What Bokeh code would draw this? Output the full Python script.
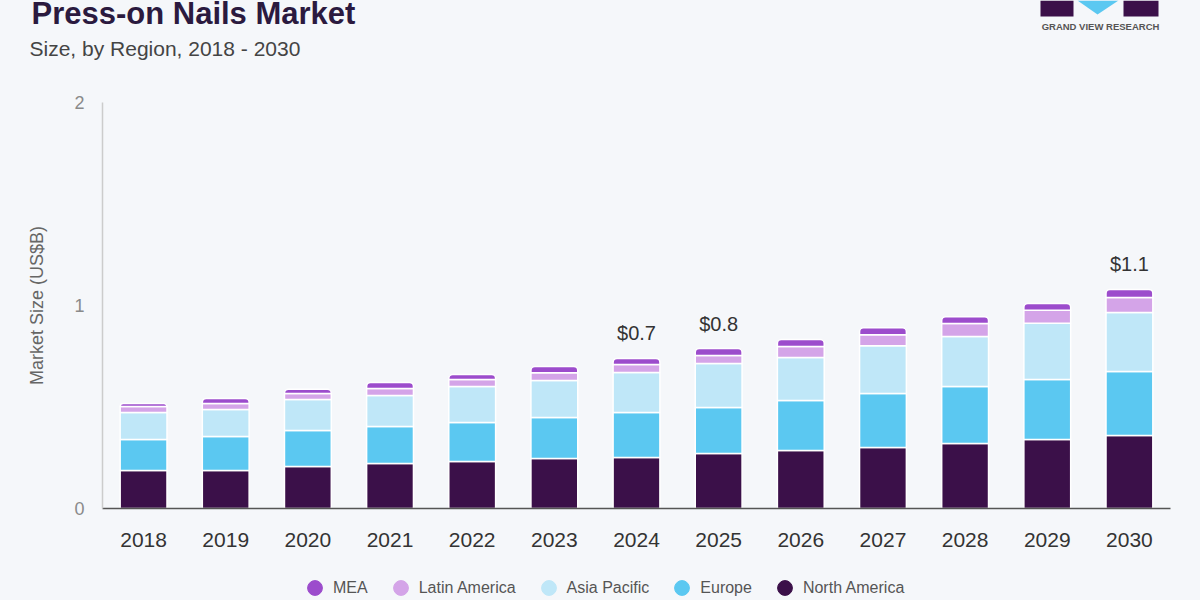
from bokeh.plotting import figure
from bokeh.models import (ColumnDataSource, FixedTicker, Label, Legend, LegendItem, Range1d)
from bokeh.layouts import column, row
from bokeh.core.properties import value
from bokeh.embed import file_html
from bokeh.resources import INLINE

years = ["2018", "2019", "2020", "2021", "2022", "2023", "2024",
         "2025", "2026", "2027", "2028", "2029", "2030"]
north_america = [0.187, 0.187, 0.207, 0.222, 0.232, 0.246, 0.251, 0.271, 0.286, 0.300, 0.320, 0.340, 0.360]
europe = [0.153, 0.168, 0.177, 0.182, 0.192, 0.202, 0.222, 0.227, 0.246, 0.266, 0.281, 0.296, 0.315]
asia_pacific = [0.133, 0.133, 0.153, 0.153, 0.177, 0.182, 0.197, 0.216, 0.212, 0.236, 0.246, 0.276, 0.291]
latin_america = [0.029, 0.029, 0.030, 0.034, 0.034, 0.039, 0.039, 0.040, 0.054, 0.054, 0.064, 0.064, 0.074]
mea = [0.015, 0.025, 0.020, 0.030, 0.025, 0.030, 0.030, 0.034, 0.034, 0.034, 0.034, 0.034, 0.039]

label_years = ["2024", "2025", "2030"]
label_texts = ["$0.7", "$0.8", "$1.1"]

y_ticks = [0, 1, 2]

regions = ["North America", "Europe", "Asia Pacific", "Latin America", "MEA"]
colors = ["#3b1049", "#5bc8f1", "#bfe7f8", "#d4a4e8", "#9c4ccc"]

BG = "#f5f7fa"
FONT = "Liberation Sans"


def blank(fig):
    fig.background_fill_color = BG
    fig.border_fill_color = BG
    fig.outline_line_color = None
    fig.xaxis.visible = False
    fig.yaxis.visible = False
    fig.xgrid.visible = False
    fig.ygrid.visible = False


# ---------------- header (title, subtitle, logo) ----------------
HH = 92
header = figure(width=1200, height=HH, x_range=Range1d(0, 1200), y_range=Range1d(0, HH),
                output_backend="svg", toolbar_location=None, title_location=None,
                min_border=0, min_border_left=0, min_border_right=0,
                min_border_top=0, min_border_bottom=0)
blank(header)
header.add_layout(Label(x=31, y=HH - 13, text="Press-on Nails Market", text_font=FONT,
                        text_font_size="31px", text_font_style="bold",
                        text_color="#2b1a3f", text_baseline="alphabetic"))
header.add_layout(Label(x=29, y=HH - 48, text="Size, by Region, 2018 - 2030", text_font=FONT,
                        text_font_size="21px", text_color="#444444",
                        text_baseline="alphabetic"))
header.quad(left=[1040, 1123], right=[1073, 1158], top=[HH, HH], bottom=[HH - 16, HH - 16],
            fill_color="#3b1049", line_color=None)
header.patch(x=[1077, 1118, 1097], y=[HH, HH, HH - 14], fill_color="#5bc8f1", line_color=None)
header.add_layout(Label(x=1100, y=HH - 26, text="GRAND VIEW RESEARCH", text_font=FONT,
                        text_font_size="9.5px", text_font_style="bold",
                        text_color="#555555", text_align="center",
                        text_baseline="alphabetic"))

# ---------------- main chart ----------------
data = dict(year=years)
for name, vals in zip(regions, [north_america, europe, asia_pacific, latin_america, mea]):
    data[name] = vals
source = ColumnDataSource(data)

MH = 468
p = figure(x_range=years, y_range=(0, 2), width=1200, height=MH,
           output_backend="svg", toolbar_location=None,
           min_border_left=102, min_border_right=30, min_border_top=102 - HH,
           min_border_bottom=MH - (508 - HH))
p.background_fill_color = BG
p.border_fill_color = BG
p.outline_line_color = None
p.xgrid.visible = False
p.ygrid.visible = False

p.vbar_stack(regions[:4], x="year", width=0.57, source=source,
             color=colors[:4], line_color="white", line_width=1.5)

cum4 = [a + b + c + d for a, b, c, d in zip(north_america, europe, asia_pacific, latin_america)]
totals = [c + e for c, e in zip(cum4, mea)]
top_src = ColumnDataSource(dict(year=years, bottom=cum4, top=totals))
p.vbar(x="year", bottom="bottom", top="top", width=0.57, source=top_src,
       fill_color=colors[4], line_color="white", line_width=1.5,
       border_radius=(4, 4, 0, 0))

lab_tops = [totals[years.index(y)] for y in label_years]
lab_src = ColumnDataSource(dict(year=label_years, top=lab_tops, text=label_texts))
p.text(x="year", y="top", text="text", source=lab_src, text_align="center",
       text_baseline="bottom", y_offset=-14, text_font=value(FONT),
       text_font_size="20px", text_color="#333333")

p.yaxis.ticker = FixedTicker(ticks=y_ticks)
p.yaxis.major_tick_line_color = None
p.yaxis.minor_tick_line_color = None
p.yaxis.axis_line_color = "#cccccc"
p.yaxis.axis_line_width = 1.5
p.yaxis.major_label_text_font = FONT
p.yaxis.major_label_text_font_size = "18px"
p.yaxis.major_label_text_color = "#8a8a8a"
p.yaxis.major_label_standoff = 12
p.yaxis.axis_label = "Market Size (US$B)"
p.yaxis.axis_label_text_font = FONT
p.yaxis.axis_label_text_font_style = "normal"
p.yaxis.axis_label_text_font_size = "18px"
p.yaxis.axis_label_text_color = "#666666"
p.yaxis.axis_label_standoff = 24

p.xaxis.major_tick_line_color = None
p.xaxis.minor_tick_line_color = None
p.xaxis.axis_line_color = "#555555"
p.xaxis.axis_line_width = 1.5
p.xaxis.major_label_text_font = FONT
p.xaxis.major_label_text_font_size = "21px"
p.xaxis.major_label_text_color = "#333333"
p.xaxis.major_label_standoff = 18

# ---------------- footer (legend) ----------------
FH = 600 - HH - MH
footer = figure(width=1200, height=FH, x_range=Range1d(0, 1200), y_range=Range1d(0, FH),
                output_backend="svg", toolbar_location=None, title_location=None,
                min_border=0, min_border_left=0, min_border_right=0,
                min_border_top=0, min_border_bottom=0)
blank(footer)
order = ["MEA", "Latin America", "Asia Pacific", "Europe", "North America"]
items = []
for name in order:
    c = colors[regions.index(name)]
    # legend-only renderer: its single point lies outside the visible range
    r = footer.scatter(x=[-500], y=[-500], marker="circle", size=15, fill_color=c, line_color=c)
    items.append(LegendItem(label=name, renderers=[r]))
legend = Legend(items=items, orientation="horizontal", location=(296, -6),
                background_fill_alpha=0, border_line_color=None,
                label_text_font=FONT, label_text_font_size="16px",
                label_text_color="#555555", glyph_width=37, glyph_height=37,
                label_standoff=-6, spacing=14, padding=0, margin=0)
footer.add_layout(legend, "center")

layout = column(header, row(p), footer, spacing=0, background=BG)
open("out.html", "w").write(file_html(layout, INLINE))
